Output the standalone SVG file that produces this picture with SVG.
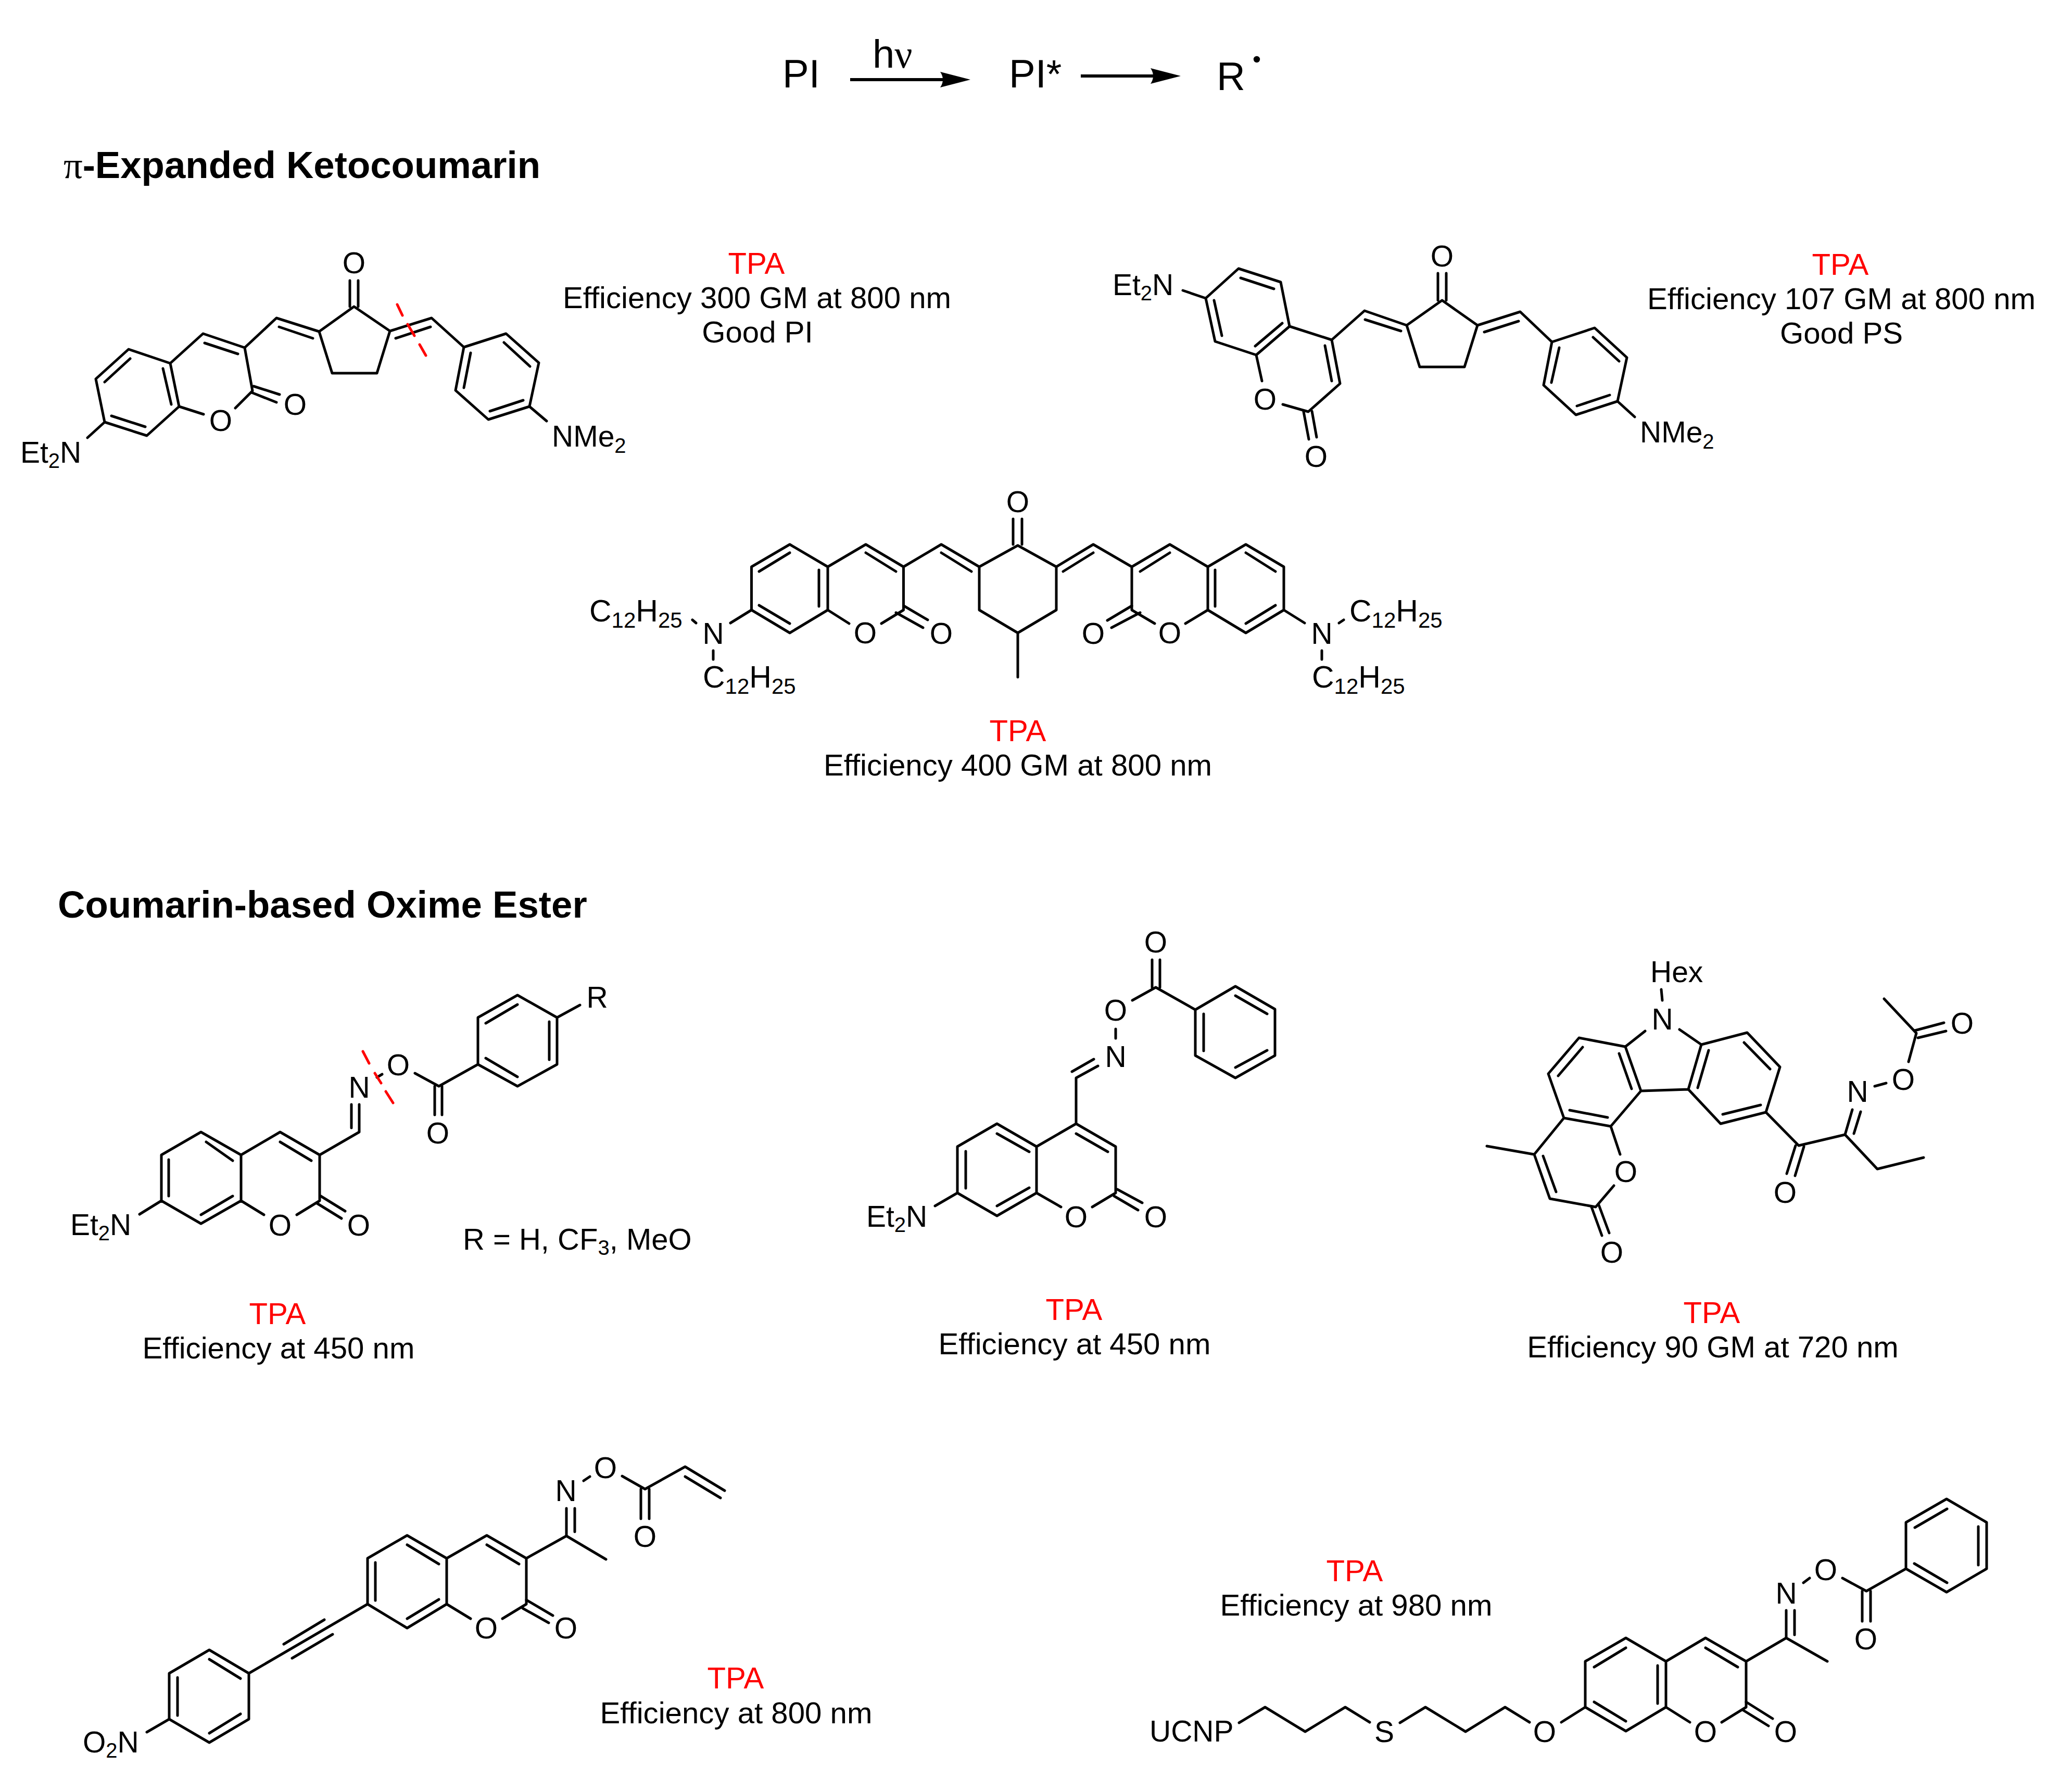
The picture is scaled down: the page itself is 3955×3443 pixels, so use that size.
<svg xmlns="http://www.w3.org/2000/svg" width="3955" height="3443" viewBox="0 0 3955 3443">
<style>
text{font-family:"Liberation Sans",Arial,sans-serif;fill:#000}
.b{fill:none;stroke:#000;stroke-width:5;stroke-linecap:round;stroke-linejoin:round}
.r{fill:none;stroke:#f00;stroke-width:5;stroke-linecap:round}
.a{fill:none;stroke:#000;stroke-width:6}
.t{font-size:72.6px;font-weight:bold}
.rx{font-size:76px}
.l{font-size:57px}
.m{text-anchor:middle}
.c{font-size:58.2px;text-anchor:middle}
.red{fill:#f00}
.s{font-size:40px}
.k{font-size:59px}
.j{font-size:42px}
</style>
<defs>
<marker id="h" markerUnits="userSpaceOnUse" markerWidth="58" markerHeight="30" viewBox="0 0 58 30" refX="10" refY="15" orient="auto"><path d="M0 0L58 15L0 30Q10 15 0 0Z" fill="#000"/></marker>
</defs>
<rect width="3955" height="3443" fill="#fff"/>

<g id="connectors">
<path class="a" d="M1633 153H1816" marker-end="url(#h)"/>
<path class="a" d="M2076 146H2220" marker-end="url(#h)"/>
</g>

<g id="reaction">
<text class="rx" x="1503" y="168">PI</text>
<text class="rx" x="1676" y="130">h<tspan font-family="'Liberation Serif',serif">ν</tspan></text>
<text class="rx" x="1938" y="168">PI*</text>
<text class="rx" x="2337" y="173">R</text>
<circle cx="2414" cy="114" r="6.2" fill="#000"/>
</g>

<g id="heading-1"><text class="t" x="122" y="342"><tspan font-family="'Liberation Serif',serif" font-weight="normal">π</tspan>-Expanded Ketocoumarin</text></g>
<g id="heading-2"><text class="t" x="111" y="1763">Coumarin-based Oxime Ester</text></g>

<g id="mol-1">
<path class="b" d="M201 811L282 837L344 781L327 698L247 671L184 728ZM327 698L390 641L470 668L485 751L452 784M344 781L391 796M470 668L531 611L613 637L680 589L749 636L724 717H638L613 637M749 636L829 611L891 667L972 641L1035 697L1017 781L938 806L875 750L891 667M1017 781L1050 809M201 811L168 841"/>
<path class="b" d="M214 799L279 820M313 708L329 777M250 689L201 734M393 659L457 680M487 742L537 758M483 754L531 773M536 628L601 650M672 589V539M688 589V539M760 650L827 628M968 658L1018 704M1005 769L941 790M891 745L904 678"/>
<path class="r" d="M763 585L773 606M783 623L796 645M806 662L818 683"/>
<text class="l m" x="424" y="828">O</text>
<text class="l m" x="567" y="797">O</text>
<text class="l m" x="680" y="525">O</text>
<text class="l" x="39" y="889">Et<tspan class="s" dy="10">2</tspan><tspan dy="-10">N</tspan></text>
<text class="l" x="1060" y="858">NMe<tspan class="s" dy="12">2</tspan></text>
</g>
<g id="label-1" transform="translate(0,1)">
<text class="c red" x="1453" y="525">TPA</text>
<text class="c" x="1454" y="591">Efficiency 300 GM at 800 nm</text>
<text class="c" x="1455" y="657">Good PI</text>
</g>

<g id="mol-2">
<path class="b" d="M2316 573L2334 656L2413 682L2477 627L2460 542L2379 516ZM2272 558L2316 573M2413 682L2424 732M2464 777L2513 791L2574 737L2558 653L2477 627M2558 653L2621 597L2702 625L2770 577L2838 625L2813 705L2727 705L2702 625M2838 625L2920 599L2981 657L3063 630L3125 687L3107 771L3027 797L2965 740L2981 657M3107 771L3140 801"/>
<path class="b" d="M2332 577L2347 645M2411 665L2463 621M2383 534L2447 555M2558 732L2545 664M2504 791L2514 844M2520 790L2529 840M2622 614L2691 636M2762 577V525M2778 577V525M2851 638L2917 617M3060 648L3110 694M3092 759L3029 780M2980 735L2995 668"/>
<text class="l m" x="2430" y="787">O</text>
<text class="l m" x="2528" y="897">O</text>
<text class="l m" x="2770" y="512">O</text>
<text class="l" x="2137" y="567">Et<tspan class="s" dy="10">2</tspan><tspan dy="-10">N</tspan></text>
<text class="l" x="3150" y="850">NMe<tspan class="s" dy="12">2</tspan></text>
</g>
<g id="label-2" transform="translate(0,1)">
<text class="c red" x="3535" y="527">TPA</text>
<text class="c" x="3537" y="593">Efficiency 107 GM at 800 nm</text>
<text class="c" x="3537" y="659">Good PS</text>
</g>

<g id="mol-3">
<path class="b" d="M1443.5 1172V1089L1517 1046L1590 1089V1172L1517 1216ZM1590 1089L1663 1046L1735.500 1089V1172L1693 1198M1590 1172L1631 1198M1735.500 1089L1808 1046L1881 1089L1955 1048L2029 1089V1172L1955 1216L1881 1172V1089M1955 1216V1301M2029 1089L2100 1046L2174 1089V1172L2218 1198M2174 1089L2247 1046L2320 1089V1172L2277 1198M2320 1089L2393 1046L2466 1089V1172L2393 1216L2320 1172M1443.5 1172L1403 1197M2466 1172L2506 1197M1370 1250V1267M2539 1250V1267M1330 1191L1337 1197M2572 1197L2581 1191"/>
<path class="b" d="M1517 1062L1458 1098M1458 1163L1517 1198M1573 1095V1165M1663 1062L1721 1098M1808 1062L1866 1098M1736 1164L1782 1191M1721 1177L1773 1206M1946 1046V997M1963 1046V997M2042 1098L2100 1062M2190 1098L2247 1062M2334 1095V1165M2393 1062L2450 1098M2450 1163L2393 1198M2174 1164L2127 1192M2190 1177L2135 1206"/>
<text class="l m" x="1662" y="1236">O</text>
<text class="l m" x="1808" y="1237">O</text>
<text class="l m" x="1955" y="984">O</text>
<text class="l m" x="2100" y="1237">O</text>
<text class="l m" x="2247" y="1236">O</text>
<text class="l m" x="1370" y="1237">N</text>
<text class="l m" x="2539" y="1237">N</text>
<text class="k" x="1132" y="1194">C<tspan class="j" dy="12">12</tspan><tspan dy="-12">H</tspan><tspan class="j" dy="12">25</tspan></text>
<text class="k" x="1350" y="1321">C<tspan class="j" dy="12">12</tspan><tspan dy="-12">H</tspan><tspan class="j" dy="12">25</tspan></text>
<text class="k" x="2592" y="1194">C<tspan class="j" dy="12">12</tspan><tspan dy="-12">H</tspan><tspan class="j" dy="12">25</tspan></text>
<text class="k" x="2520" y="1321">C<tspan class="j" dy="12">12</tspan><tspan dy="-12">H</tspan><tspan class="j" dy="12">25</tspan></text>
</g>
<g id="label-3" transform="translate(0,1)">
<text class="c red" x="1955" y="1423">TPA</text>
<text class="c" x="1955" y="1489">Efficiency 400 GM at 800 nm</text>
</g>

<g id="mol-4">
<path class="b" d="M310 2307V2219L386 2175L463 2219V2307L386 2351ZM463 2219L538 2175L614 2219V2307L570 2334M463 2307L507 2334M614 2219L690 2175V2122M310 2307L268 2333M724 2070L734 2064M797 2062L843 2087L918 2045L994 2087L1070 2045V1955L994 1912L918 1955V2045M1070 1955L1114 1931"/>
<path class="b" d="M396 2194L447 2230M324 2228V2298M386 2334L447 2298M538 2194L598 2230M616 2298L663 2327M609 2312L656 2341M675 2167V2122M835 2087V2142M849 2087V2142M933 2033L994 2069M1055 1963V2036M933 1966L994 1930"/>
<path class="r" d="M697 2020L709 2043M720 2062L732 2081M741 2097L755 2119"/>
<text class="l m" x="538" y="2374">O</text>
<text class="l m" x="689" y="2374">O</text>
<text class="l m" x="690" y="2109">N</text>
<text class="l m" x="765" y="2066">O</text>
<text class="l m" x="841" y="2197">O</text>
<text class="l m" x="1147" y="1936">R</text>
<text class="l" x="135" y="2373">Et<tspan class="s" dy="10">2</tspan><tspan dy="-10">N</tspan></text>
<text style="font-size:58px" x="889" y="2401">R = H, CF<tspan class="s" dy="10">3</tspan><tspan dy="-10">, MeO</tspan></text>
</g>
<g id="label-4" transform="translate(0,1)">
<text class="c red" x="533" y="2543">TPA</text>
<text class="c" x="535" y="2609">Efficiency at 450 nm</text>
</g>

<g id="mol-5">
<path class="b" d="M1839 2292V2203L1915 2159L1991 2203V2292L1915 2336ZM1991 2203L2067 2159L2143 2203V2292L2098 2319M1991 2292L2038 2319M1839 2292L1796 2317M2067 2159V2071L2109 2048M2143 1995V1977M2175 1922L2220 1897L2296 1940V2028L2373 2071L2449 2028V1939L2373 1895L2296 1940"/>
<path class="b" d="M1915 2178L1977 2213M1855 2212V2283M1915 2317L1977 2282M2067 2178L2128 2213M2146 2285L2194 2311M2140 2298L2186 2325M2059 2059L2101 2035M2213 1897V1844M2228 1897V1844M2312 1948V2019M2373 2051L2434 2018M2373 1913L2434 1948"/>
<text class="l m" x="2067" y="2358">O</text>
<text class="l m" x="2220" y="2358">O</text>
<text class="l m" x="2143" y="2050">N</text>
<text class="l m" x="2143" y="1961">O</text>
<text class="l m" x="2220" y="1830">O</text>
<text class="l" x="1664" y="2357">Et<tspan class="s" dy="10">2</tspan><tspan dy="-10">N</tspan></text>
</g>
<g id="label-5" transform="translate(0,1)">
<text class="c red" x="2063" y="2535">TPA</text>
<text class="c" x="2064" y="2601">Efficiency at 450 nm</text>
</g>

<g id="mol-6">
<path class="b" d="M3191 1901L3193 1922M3160 1981L3122 2011L3033 1994L2974 2063L3004 2148L3094 2164L3152 2096L3122 2011M3226 1978L3268 2007L3356 1984L3419 2050L3392 2137L3305 2159L3243 2093L3268 2007M3152 2096L3243 2093M3004 2148L2947 2218L2856 2202M2947 2218L2977 2303L3065 2319L3100 2278M3094 2164L3112 2218M3392 2137L3455 2201L3544 2180L3606 2246L3695 2224M3601 2087L3623 2081M3666 2040L3681 1985L3619 1919"/>
<path class="b" d="M3040 2012L2993 2067M3110 2024L3134 2092M3015 2133L3088 2147M3261 2090L3282 2018M3350 2003L3400 2054M3382 2123L3309 2141M2964 2221L2989 2290M3057 2319L3077 2374M3071 2315L3091 2369M3449 2201L3432 2255M3465 2203L3448 2259M3544 2180L3558 2132M3561 2178L3574 2136M3678 1980L3734 1965M3684 1994L3738 1981"/>
<text class="l" x="3170" y="1887">Hex</text>
<text class="l m" x="3193" y="1978">N</text>
<text class="l m" x="3123" y="2271">O</text>
<text class="l m" x="3096" y="2426">O</text>
<text class="l m" x="3429" y="2311">O</text>
<text class="l m" x="3568" y="2117">N</text>
<text class="l m" x="3656" y="2094">O</text>
<text class="l m" x="3769" y="1986">O</text>
</g>
<g id="label-6" transform="translate(0,1)">
<text class="c red" x="3288" y="2541">TPA</text>
<text class="c" x="3290" y="2607">Efficiency 90 GM at 720 nm</text>
</g>

<g id="mol-7">
<path class="b" d="M706 3082V2994L782 2950L858 2994V3082L782 3128ZM858 2994L935 2950L1011 2994V3082L965 3110M858 3082L904 3110M1011 2994L1088 2951L1164 2996M1088 2951V2898M1121 2845L1133 2837M1195 2836L1239 2861L1316 2818L1392 2864M706 3082L478 3215L402 3170L325 3215V3303L402 3348L478 3303V3215M325 3303L282 3328"/>
<path class="b" d="M782 2968L843 3005M721 3002V3075M782 3110L843 3073M935 2968L997 3005M1011 3074L1062 3104M1004 3090L1054 3118M1104 2943V2898M1231 2861V2918M1247 2861V2918M1316 2837L1384 2878M623 3112L545 3159M639 3140L561 3186M402 3188L462 3225M341 3223V3296M402 3330L462 3293"/>
<text class="l m" x="934" y="3148">O</text>
<text class="l m" x="1087" y="3148">O</text>
<text class="l m" x="1087" y="2884">N</text>
<text class="l m" x="1163" y="2840">O</text>
<text class="l m" x="1239" y="2972">O</text>
<text class="l" x="159" y="3367">O<tspan class="s" dy="10">2</tspan><tspan dy="-10">N</tspan></text>
</g>
<g id="label-7" transform="translate(0,1)">
<text class="c red" x="1413" y="3243">TPA</text>
<text class="c" x="1414" y="3310">Efficiency at 800 nm</text>
</g>

<g id="mol-8">
<path class="b" d="M2380 3310L2430 3280L2507 3327L2584 3280L2631 3309M2689 3310L2738 3280L2815 3327L2891 3280L2938 3309M2999 3309L3045 3280V3192L3123 3147L3200 3192V3280L3123 3326L3045 3280M3200 3192L3276 3147L3354 3192V3280L3307 3309M3200 3280L3246 3309M3354 3192L3431 3147L3510 3192M3431 3147V3094M3464 3041L3476 3032M3539 3032L3585 3057L3661 3014L3739 3059L3816 3014V2925L3739 2880L3661 2925V3014"/>
<path class="b" d="M3062 3203L3123 3166M3184 3200V3273M3062 3270L3123 3307M3276 3166L3338 3203M3354 3270L3405 3302M3347 3285L3397 3316M3447 3141V3094M3577 3057V3115M3593 3057V3115M3677 3004L3740 3041M3800 2933V3007M3678 2935L3740 2899"/>
<text class="l" x="2208" y="3346">UCNP</text>
<text class="l m" x="2659" y="3347">S</text>
<text class="l m" x="2967" y="3347">O</text>
<text class="l m" x="3276" y="3347">O</text>
<text class="l m" x="3430" y="3347">O</text>
<text class="l m" x="3431" y="3081">N</text>
<text class="l m" x="3507" y="3036">O</text>
<text class="l m" x="3584" y="3169">O</text>
</g>
<g id="label-8" transform="translate(0,1)">
<text class="c red" x="2602" y="3037">TPA</text>
<text class="c" x="2605" y="3103">Efficiency at 980 nm</text>
</g>
</svg>
